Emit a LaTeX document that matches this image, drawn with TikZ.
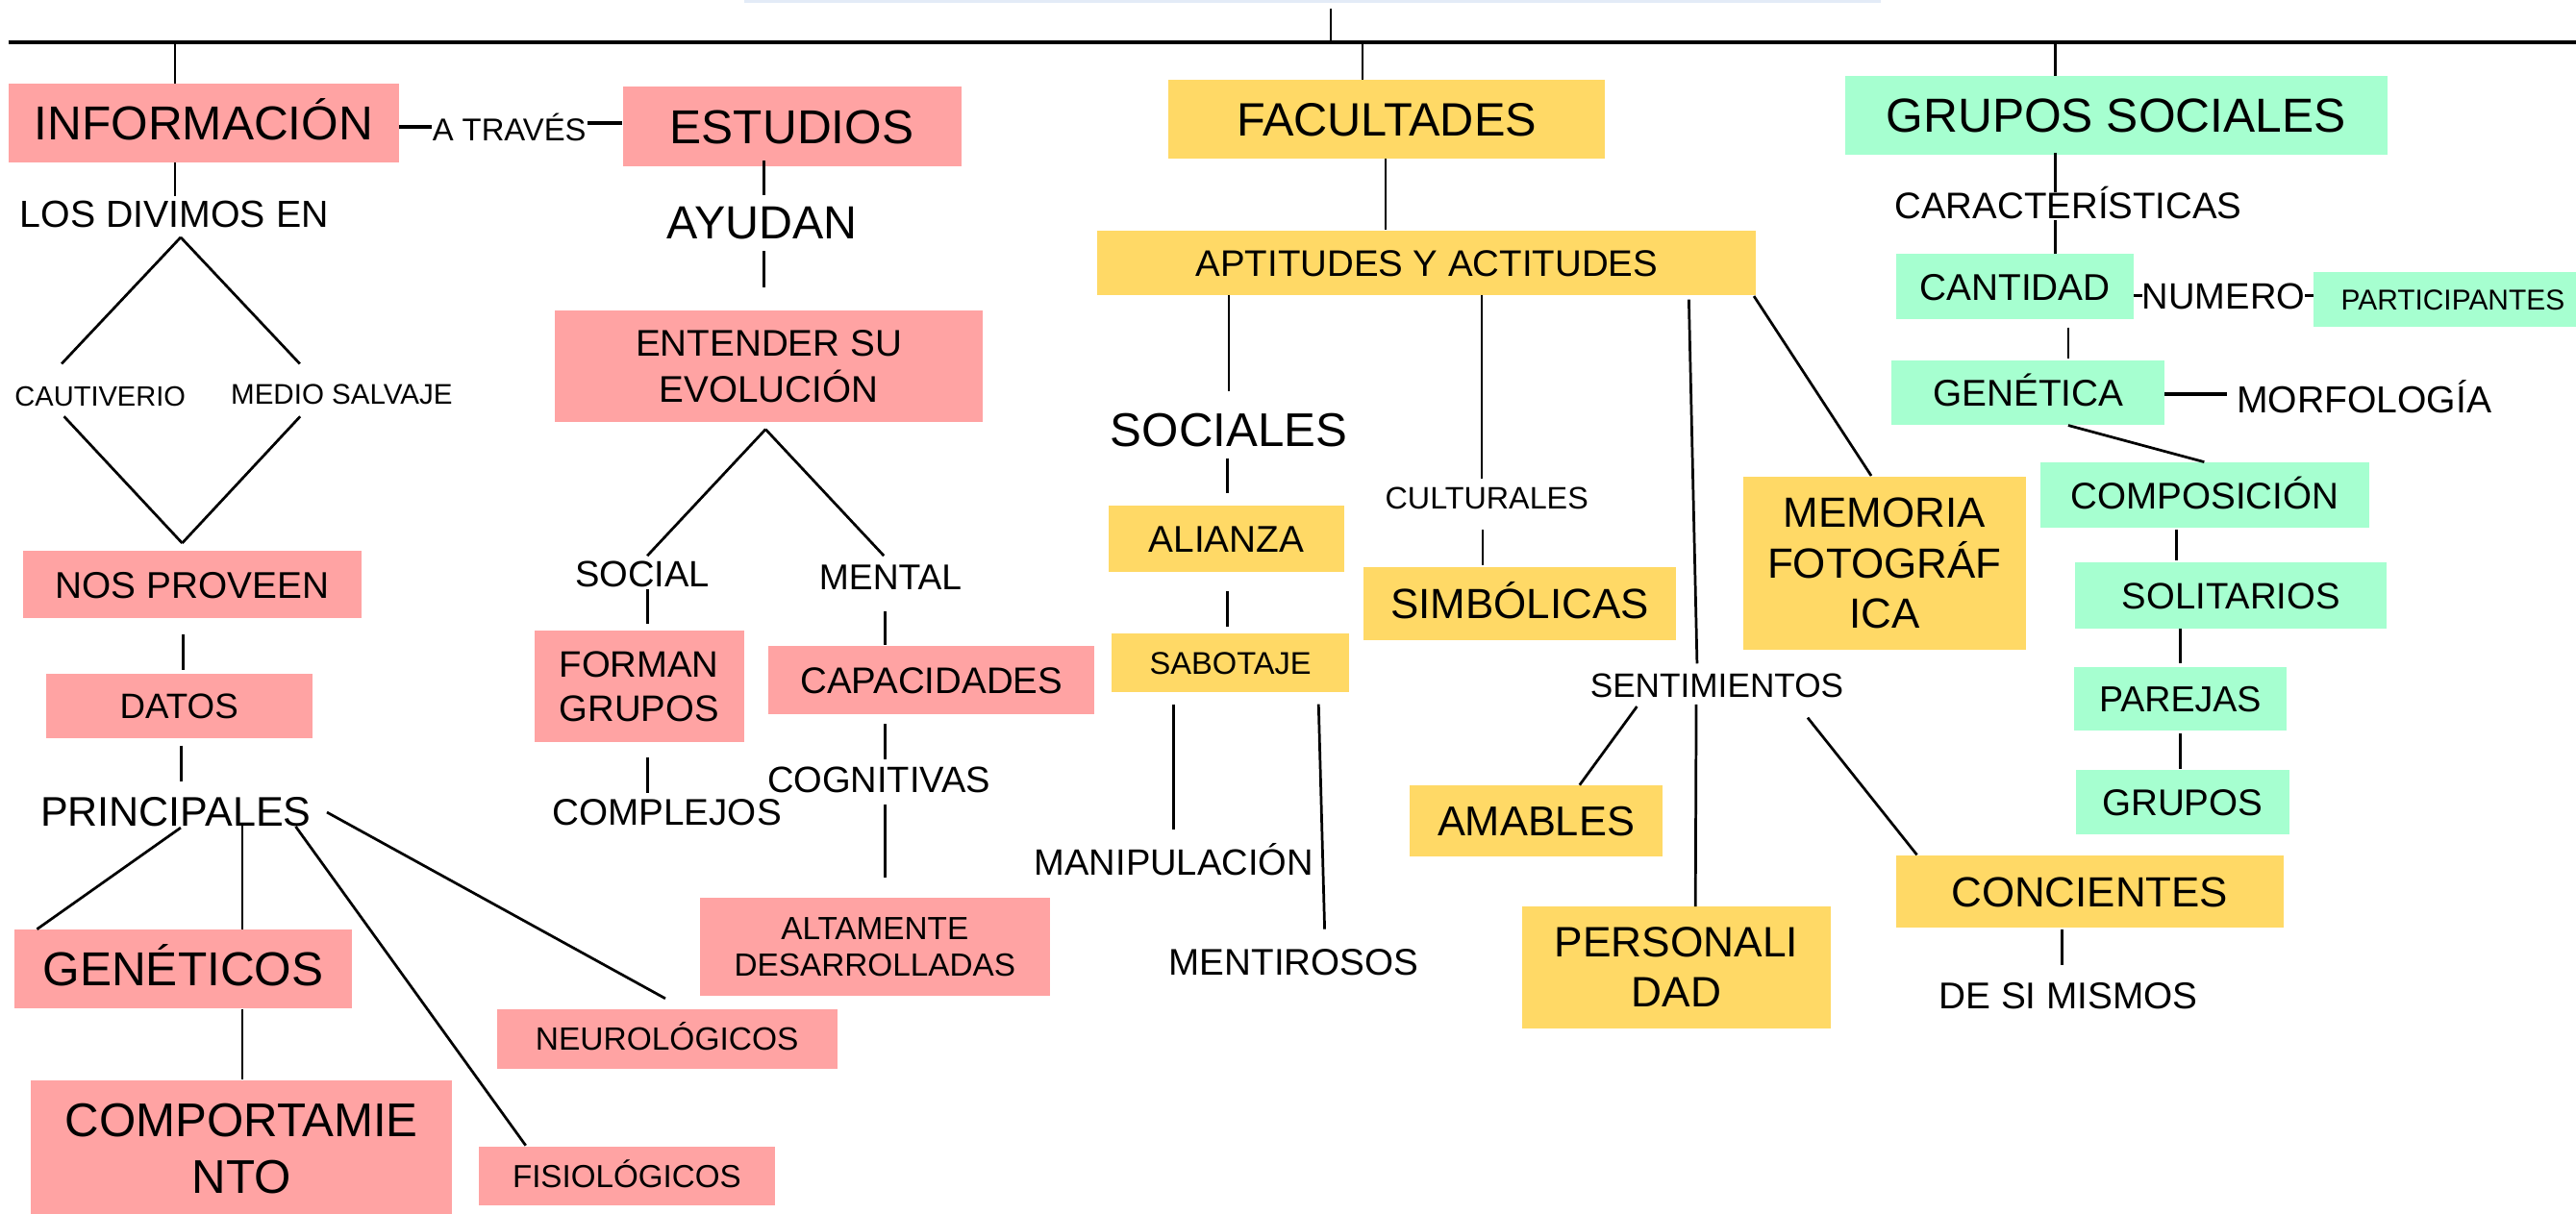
\documentclass[tikz,border=0pt]{standalone}
\usepackage{fontspec}
\setmainfont{Liberation Sans}
\definecolor{pinkc}{HTML}{FFA3A3}
\definecolor{yelc}{HTML}{FFD966}
\definecolor{grnc}{HTML}{A6FFD0}
\definecolor{faintc}{HTML}{E3EBF7}
\begin{document}
\begin{tikzpicture}[x=1pt,y=-1pt,
  base/.style={inner sep=0pt, outer sep=0pt, align=center, text=black},
  fs/.style 2 args={font=\fontsize{#1}{#2}\selectfont, text height={0.72*#1}, text depth=0pt},
  fm/.style 2 args={font=\fontsize{#1}{#2}\selectfont},
  bx/.style 2 args={minimum width=#1pt, minimum height=#2pt},
  pinkbox/.style={base, fill=pinkc},
  yelbox/.style={base, fill=yelc},
  grnbox/.style={base, fill=grnc},
  lbl/.style={base},
  conn/.style={draw=black, line width=1.6pt},
  heavy/.style={draw=black, line width=2.4pt},
  faintline/.style={draw=faintc, line width=1.5pt}
]
\fill[white] (0,0) rectangle (1568,739);
\useasboundingbox (0,0) rectangle (1568,739);

% ---------- pink column ----------
\node[pinkbox,bx={238}{48},fs={29}{35}] (info) at (124,75) {INFORMACIÓN};
\node[lbl,fs={19.2}{23}] (atr) at (310,79) {A TRAVÉS};
\node[pinkbox,bx={206}{48.5},fs={29}{35}] (est) at (482,77) {ESTUDIOS};
\node[lbl,fs={28.3}{34}] (ayudan) at (464,135) {AYUDAN};
\node[pinkbox,bx={260}{68},fm={22.6}{28}] (ent) at (468,223) {ENTENDER SU\\EVOLUCIÓN};
\node[lbl,fs={23}{28}] (ldiv) at (106,130) {LOS DIVIMOS EN};
\node[lbl,fs={17}{20}] (caut) at (61,241) {CAUTIVERIO};
\node[lbl,fs={17.3}{20}] (medio) at (208,240) {MEDIO SALVAJE};
\node[pinkbox,bx={206}{41},fs={22.7}{27}] (nos) at (117,356) {NOS PROVEEN};
\node[pinkbox,bx={162}{39.3},fs={21.5}{26}] (datos) at (109,430) {DATOS};
\node[lbl,fs={25.2}{30}] (princ) at (107,494) {PRINCIPALES};
\node[pinkbox,bx={205}{48.5},fs={29}{35}] (gen) at (111.5,590) {GENÉTICOS};
\node[pinkbox,bx={256.5}{83},fm={28.8}{35}] (comp) at (147,699.5) {COMPORTAMIE\\NTO};
\node[pinkbox,bx={207.4}{36.3},fs={19.6}{23}] (neuro) at (406,632.5) {NEUROLÓGICOS};
\node[pinkbox,bx={180}{36},fs={19.4}{23}] (fisio) at (381.5,716) {FISIOLÓGICOS};
\node[pinkbox,bx={213}{59.3},fm={19.5}{22.4}] (alta) at (532.5,576.5) {ALTAMENTE\\DESARROLLADAS};
\node[lbl,fs={22.3}{27}] (social) at (391,349) {SOCIAL};
\node[lbl,fs={21.8}{26}] (mental) at (542,351) {MENTAL};
\node[pinkbox,bx={127.5}{67.6},fm={22.4}{27}] (forman) at (389,418) {FORMAN\\GRUPOS};
\node[pinkbox,bx={198.6}{41.2},fs={22.5}{27}] (capac) at (567,414) {CAPACIDADES};
\node[lbl,fs={22.3}{27}] (cogn) at (535,474.5) {COGNITIVAS};
\node[lbl,fs={22.6}{27}] (complejos) at (406,494.5) {COMPLEJOS};

% ---------- yellow column ----------
\node[yelbox,bx={266}{48.2},fs={28.5}{34}] (fac) at (844,72.5) {FACULTADES};
\node[yelbox,bx={401}{39.5},fs={22.5}{27}] (apt) at (868.5,160) {APTITUDES Y ACTITUDES};
\node[lbl,fs={28.8}{34}] (sociales) at (748,261.5) {SOCIALES};
\node[yelbox,bx={143}{40.6},fs={22.7}{27}] (alianza) at (746.5,328) {ALIANZA};
\node[yelbox,bx={144.6}{35.9},fs={19.1}{23}] (sabot) at (749,403.5) {SABOTAJE};
\node[lbl,fs={22.3}{27}] (manip) at (714.5,525) {MANIPULACIÓN};
\node[lbl,fs={22.6}{27}] (mentir) at (787.5,585.5) {MENTIROSOS};
\node[lbl,fs={18.9}{23}] (cultur) at (905,303) {CULTURALES};
\node[yelbox,bx={190}{44.5},fs={25.7}{31}] (simb) at (925,367.5) {SIMBÓLICAS};
\node[yelbox,bx={172}{105.6},fm={25.7}{30.7}] (memoria) at (1147,343) {MEMORIA\\FOTOGRÁF\\ICA};
\node[lbl,fs={20.6}{25}] (senti) at (1045,417) {SENTIMIENTOS};
\node[yelbox,bx={153.6}{43.3},fs={25.4}{30}] (amables) at (935,500) {AMABLES};
\node[yelbox,bx={187.7}{74.3},fm={25.9}{30.3}] (person) at (1020.5,589) {PERSONALI\\DAD};
\node[yelbox,bx={236}{43.8},fs={25.7}{31}] (concient) at (1272,543) {CONCIENTES};
\node[lbl,fs={22.7}{27}] (desi) at (1259,606) {DE SI MISMOS};

% ---------- green column ----------
\node[grnbox,bx={330}{48},fs={29.1}{35}] (gs) at (1288,70) {GRUPOS SOCIALES};
\node[lbl,fs={22.5}{27}] (caract) at (1259,125) {CARACTERÍSTICAS};
\node[grnbox,bx={145}{39.8},fs={22.7}{27}] (cant) at (1226.5,174.5) {CANTIDAD};
\node[lbl,fs={22.3}{27}] (numero) at (1353.5,180) {NUMERO};
\node[grnbox,bx={170}{33.2},fs={17.5}{21}] (partic) at (1493,182.5) {PARTICIPANTES};
\node[grnbox,bx={166}{39.5},fs={22.7}{27}] (genet) at (1234.5,239) {GENÉTICA};
\node[lbl,fs={22.9}{27}] (morfo) at (1439,243) {MORFOLOGÍA};
\node[grnbox,bx={200}{39.8},fs={22.6}{27}] (compos) at (1342,301.5) {COMPOSICIÓN};
\node[grnbox,bx={189.4}{40.8},fs={22.4}{27}] (solit) at (1358,362.5) {SOLITARIOS};
\node[grnbox,bx={129.5}{39},fs={22}{26}] (parejas) at (1327,425.5) {PAREJAS};
\node[grnbox,bx={129.8}{39.4},fs={22.6}{27}] (grupos) at (1328.5,488.5) {GRUPOS};

% ---------- top structure ----------
\coordinate (fl) at (453,0.8);
\coordinate (fr) at (1145,0.8);
\coordinate (tstub) at (810,5);
\coordinate (tjoin) at (810,26);
\coordinate (hl) at (5,26);
\coordinate (hr) at (1568,26);
\coordinate (b1) at (106.5,26);
\coordinate (b2) at (829.4,26);
\coordinate (b3) at (1251,26);
\draw[faintline] (fl) -- (fr);
\draw[conn] (tstub) -- (tjoin);
\draw[conn, line width=2.3pt] (hl) -- (hr);
\draw[conn] (b1) -- (b1 |- info.north);
\draw[conn] (b2) -- (b2 |- fac.north);
\draw[conn] (b3) -- (b3 |- gs.north);

% ---------- pink connectors ----------
\draw[heavy] ([shift={(119,2.5)}]info.center) -- ([shift={(-47,-1.5)}]atr.center);
\draw[heavy] ([shift={(47.6,-4.3)}]atr.center) -- ([shift={(-103.4,-2.3)}]est.center);
\draw[conn] ([shift={(-17.5,24)}]info.center) -- ([shift={(0.5,-10.5)}]ldiv.center);
\draw[conn] ([shift={(-17,21)}]est.center) -- ([shift={(1,-16)}]ayudan.center);
\draw[conn] ([shift={(1,18)}]ayudan.center) -- ([shift={(-3,-48)}]ent.center);
\draw[conn] ([shift={(4,14.5)}]ldiv.center) -- ([shift={(-23.5,-19.5)}]caut.center);
\draw[conn] ([shift={(4,14.5)}]ldiv.center) -- ([shift={(-25.5,-18.5)}]medio.center);
\draw[conn] ([shift={(-22,12.6)}]caut.center) -- ([shift={(-6.1,-25.3)}]nos.center);
\draw[conn] ([shift={(-25.3,13.6)}]medio.center) -- ([shift={(-6.1,-25.3)}]nos.center);
\draw[conn] ([shift={(-5.4,30)}]nos.center) -- ([shift={(2.6,-22)}]datos.center);
\draw[conn] ([shift={(1.4,24)}]datos.center) -- ([shift={(3.4,-18)}]princ.center);
\draw[conn] ([shift={(3,10)}]princ.center) -- ([shift={(-89,-24.2)}]gen.center);
\draw[conn] ([shift={(40.5,8)}]princ.center) -- ([shift={(36,-24)}]gen.center);
\draw[conn] ([shift={(73,9.3)}]princ.center) -- ([shift={(-61.5,-18.5)}]fisio.center);
\draw[conn] ([shift={(92,0.6)}]princ.center) -- ([shift={(-1,-24.5)}]neuro.center);
\draw[conn] ([shift={(36,24.5)}]gen.center) -- ([shift={(0.5,-42.5)}]comp.center);
\draw[conn] ([shift={(-2,38.4)}]ent.center) -- ([shift={(3,-10.6)}]social.center);
\draw[conn] ([shift={(-2,38.4)}]ent.center) -- ([shift={(-4,-12.6)}]mental.center);
\draw[conn] ([shift={(3,10)}]social.center) -- ([shift={(5,-38)}]forman.center);
\draw[conn] ([shift={(-3.4,21)}]mental.center) -- ([shift={(-28.4,-21)}]capac.center);
\draw[conn] ([shift={(-28.4,26.8)}]capac.center) -- ([shift={(3.6,-12.1)}]cogn.center);
\draw[conn] ([shift={(3.6,15.2)}]cogn.center) -- ([shift={(6.1,-42)}]alta.center);
\draw[conn] ([shift={(5,43)}]forman.center) -- ([shift={(-12,-11.5)}]complejos.center);

% ---------- yellow connectors ----------
\draw[conn] ([shift={(-0.6,24.1)}]fac.center) -- ([shift={(-25.1,-20)}]apt.center);
\draw[conn] ([shift={(-120.5,19.5)}]apt.center) -- ([shift={(0,-23.5)}]sociales.center);
\draw[conn] ([shift={(33.5,19.5)}]apt.center) -- ([shift={(-3,-11.4)}]cultur.center);
\draw[conn] ([shift={(159.5,22.4)}]apt.center) -- ([shift={(-12,-13)}]senti.center);
\draw[conn] ([shift={(-12.5,12)}]senti.center) -- ([shift={(11.5,-37)}]person.center);
\draw[conn] ([shift={(199.1,20.3)}]apt.center) -- ([shift={(-8,-53.3)}]memoria.center);
\draw[conn] ([shift={(-1,17.5)}]sociales.center) -- ([shift={(0.5,-27.6)}]alianza.center);
\draw[conn] ([shift={(0.5,32)}]alianza.center) -- ([shift={(-2,-22.1)}]sabot.center);
\draw[conn] ([shift={(-34.7,25.3)}]sabot.center) -- ([shift={(-0.2,-19.7)}]manip.center);
\draw[conn] ([shift={(53.6,25.3)}]sabot.center) -- ([shift={(18.8,-19.7)}]mentir.center);
\draw[conn] ([shift={(-2.5,19.5)}]cultur.center) -- ([shift={(-22.5,-23.5)}]simb.center);
\draw[conn] ([shift={(-48.6,13.2)}]senti.center) -- ([shift={(26.5,-22)}]amables.center);
\draw[conn] ([shift={(55.3,20)}]senti.center) -- ([shift={(-105.2,-22.5)}]concient.center);
\draw[conn] ([shift={(-17,23)}]concient.center) -- ([shift={(-4,-18.4)}]desi.center);

% ---------- green connectors ----------
\draw[conn] ([shift={(-37,23)}]gs.center) -- ([shift={(-8,-8)}]caract.center);
\draw[conn] ([shift={(-8,9)}]caract.center) -- ([shift={(24.5,-19.8)}]cant.center);
\draw[conn] ([shift={(72.5,5.5)}]cant.center) -- ([shift={(-49.5,0)}]numero.center);
\draw[conn] ([shift={(49.5,0)}]numero.center) -- ([shift={(-85,-2.5)}]partic.center);
\draw[conn] ([shift={(32.5,24.9)}]cant.center) -- ([shift={(24.5,-20.5)}]genet.center);
\draw[heavy] ([shift={(83.1,1)}]genet.center) -- ([shift={(-83.5,-3)}]morfo.center);
\draw[conn] ([shift={(24.4,20)}]genet.center) -- ([shift={(-0.3,-20.2)}]compos.center);
\draw[conn] ([shift={(-17,21)}]compos.center) -- ([shift={(-33,-21.1)}]solit.center);
\draw[conn] ([shift={(-31,20.3)}]solit.center) -- ([shift={(0,-21.5)}]parejas.center);
\draw[conn] ([shift={(0,21.2)}]parejas.center) -- ([shift={(-1.5,-20.5)}]grupos.center);
\end{tikzpicture}
\end{document}
